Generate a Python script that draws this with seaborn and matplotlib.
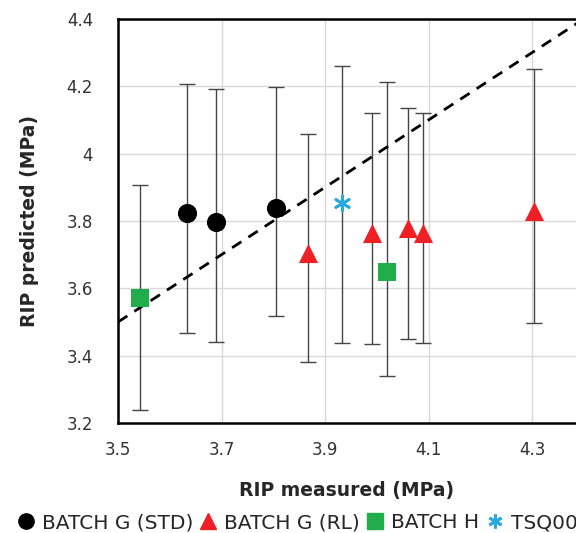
import numpy as np
import pandas as pd
import matplotlib
matplotlib.use("Agg")
import matplotlib.pyplot as plt
import seaborn as sns

# data
std_x = [3.633, 3.689, 3.805]
std_y = [3.823, 3.797, 3.838]
std_lo = [3.466, 3.442, 3.519]
std_hi = [4.206, 4.192, 4.199]

rl_x = [3.867, 3.991, 4.060, 4.089, 4.303]
rl_y = [3.704, 3.765, 3.778, 3.763, 3.830]
rl_lo = [3.382, 3.435, 3.449, 3.439, 3.498]
rl_hi = [4.058, 4.122, 4.135, 4.122, 4.252]

h_x = [3.543, 4.019]
h_y = [3.570, 3.647]
h_lo = [3.239, 3.340]
h_hi = [3.908, 4.214]

tsq_x = [3.933]
tsq_y = [3.853]
tsq_lo = [3.439]
tsq_hi = [4.261]

groups = ["BATCH G (STD)", "BATCH G (RL)", "BATCH H", "TSQ002"]
colors = {"BATCH G (STD)": "black", "BATCH G (RL)": "#ee1f25",
          "BATCH H": "#1fae4b", "TSQ002": "#2aa9e0"}
markers = {"BATCH G (STD)": "o", "BATCH G (RL)": "^",
           "BATCH H": "s", "TSQ002": (6, 2, 0)}

frames = []
for g, x, y, lo, hi in zip(groups, [std_x, rl_x, h_x, tsq_x], [std_y, rl_y, h_y, tsq_y],
                           [std_lo, rl_lo, h_lo, tsq_lo], [std_hi, rl_hi, h_hi, tsq_hi]):
    frames.append(pd.DataFrame({"measured": x, "predicted": y, "lo": lo, "hi": hi, "group": g}))
df = pd.concat(frames, ignore_index=True)

sns.set_style("white")
plt.rcParams["font.family"] = ["DejaVu Sans"]

fig = plt.figure(figsize=(5.76, 5.33), dpi=100)
ax = fig.add_axes([0.2049, 0.2064, 0.7951, 0.758])

ax.errorbar(df["measured"], df["predicted"],
            yerr=[df["predicted"] - df["lo"], df["hi"] - df["predicted"]],
            fmt="none", ecolor="#454545", elinewidth=1, capsize=5.5, capthick=1, zorder=2)

# 1:1 line
line = np.array([3.5, 4.5])
ax.plot(line, line, ls=(0, (4, 3)), color="black", lw=2, zorder=3)

sizes = {"BATCH G (STD)": 190, "BATCH G (RL)": 190, "BATCH H": 150, "TSQ002": 120}
for g in groups:
    sub = df[df["group"] == g]
    sns.scatterplot(data=sub, x="measured", y="predicted", ax=ax, color=colors[g],
                    marker=markers[g], s=sizes[g], linewidth=2 if g == "TSQ002" else 0,
                    edgecolor=colors[g], label=g, zorder=4, legend=False)

ax.set_xlim(3.5, 4.385)
ax.set_ylim(3.2, 4.4)
ax.set_xticks([3.5, 3.7, 3.9, 4.1, 4.3])
ax.set_yticks([3.2, 3.4, 3.6, 3.8, 4.0, 4.2, 4.4])
ax.set_yticklabels(["3.2", "3.4", "3.6", "3.8", "4", "4.2", "4.4"])
ax.grid(True, color="#d9d9d9", lw=1)
ax.tick_params(axis="x", length=5, color="#c8c8c8", labelsize=12, pad=8, colors="#333333")
ax.tick_params(axis="y", length=0, labelsize=12, pad=18, colors="#333333")
for s in ["left", "bottom", "top"]:
    ax.spines[s].set_color("black")
    ax.spines[s].set_linewidth(1.8)
ax.spines["right"].set_visible(False)

ax.set_xlabel("RIP measured (MPa)", fontsize=13.5, fontweight="bold", labelpad=16)
ax.set_ylabel("RIP predicted (MPa)", fontsize=13.5, fontweight="bold", labelpad=20)

handles = []
for g in groups:
    handles.append(plt.Line2D([], [], ls="none", marker=markers[g], color=colors[g],
                              markersize=11 if g != "TSQ002" else 10, mew=2 if g == "TSQ002" else 1,
                              label=g))
fig.legend(handles=handles, loc="center left", bbox_to_anchor=(0.02, 0.019), ncol=4,
           frameon=False, fontsize=14.5, handletextpad=0.3, columnspacing=0.25,
           handlelength=1.0, borderaxespad=0, borderpad=0.2)

fig.savefig("out.png", dpi=100)
